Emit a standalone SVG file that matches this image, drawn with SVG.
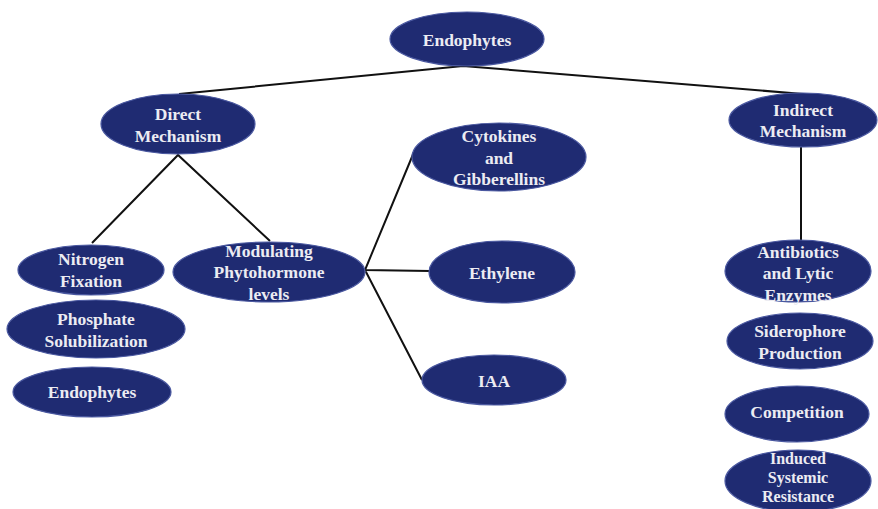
<svg xmlns="http://www.w3.org/2000/svg" width="878" height="509" viewBox="0 0 878 509">
<style>
.n{fill:#1f2b72;stroke:#4a58a0;stroke-width:1.2}
.t{font-family:"Liberation Serif","Times New Roman",serif;font-weight:bold;font-size:17.5px;fill:#ececf2;text-anchor:middle}
.s{font-size:16px}
.c{stroke:#111;stroke-width:2;fill:none}
</style>
<rect width="878" height="509" fill="#fff"/>
<g id="connectors">
<path class="c" d="M179,94 L463,66 L803,94"/>
<path class="c" d="M92,243 L178,155 L270,241"/>
<path class="c" d="M414,152 L365,270 L430,271 M365,270 L422,380"/>
<path class="c" d="M801,147 L801,241"/>
</g>
<g id="endophytes-root"><ellipse class="n" cx="467" cy="39" rx="77" ry="27"/><text class="t" x="467" y="46">Endophytes</text></g>
<g id="direct"><ellipse class="n" cx="178" cy="124" rx="77" ry="30"/><text class="t" x="178" y="119.5">Direct</text><text class="t" x="178" y="141.5">Mechanism</text></g>
<g id="indirect"><ellipse class="n" cx="803" cy="120" rx="74" ry="27"/><text class="t" x="803" y="115.5">Indirect</text><text class="t" x="803" y="136.5">Mechanism</text></g>
<g id="nitrogen"><ellipse class="n" cx="91" cy="270" rx="73" ry="25"/><text class="t" x="91" y="264.5">Nitrogen</text><text class="t" x="91" y="286.5">Fixation</text></g>
<g id="phosphate"><ellipse class="n" cx="96" cy="329" rx="89" ry="29"/><text class="t" x="96" y="324.5">Phosphate</text><text class="t" x="96" y="346.5">Solubilization</text></g>
<g id="endophytes-2"><ellipse class="n" cx="92" cy="392" rx="79" ry="25"/><text class="t" x="92" y="397.5">Endophytes</text></g>
<g id="modulating"><ellipse class="n" cx="269" cy="272" rx="96" ry="30"/><text class="t" x="269" y="256.5">Modulating</text><text class="t" x="269" y="277.5">Phytohormone</text><text class="t" x="269" y="299.5">levels</text></g>
<g id="cytokines"><ellipse class="n" cx="499" cy="157" rx="87" ry="34"/><text class="t" x="499" y="141.5">Cytokines</text><text class="t" x="499" y="163.5">and</text><text class="t" x="499" y="184.5">Gibberellins</text></g>
<g id="ethylene"><ellipse class="n" cx="502" cy="272" rx="73" ry="31"/><text class="t" x="502" y="278.5">Ethylene</text></g>
<g id="iaa"><ellipse class="n" cx="494" cy="380" rx="72" ry="25"/><text class="t" x="494" y="386.5">IAA</text></g>
<g id="antibiotics"><ellipse class="n" cx="798" cy="271" rx="73" ry="31"/><text class="t" x="798" y="257.5">Antibiotics</text><text class="t" x="798" y="278.5">and Lytic</text><text class="t" x="798" y="300.5">Enzymes</text></g>
<g id="siderophore"><ellipse class="n" cx="800" cy="341" rx="73" ry="28"/><text class="t" x="800" y="336.5">Siderophore</text><text class="t" x="800" y="358.5">Production</text></g>
<g id="competition"><ellipse class="n" cx="797" cy="414" rx="72" ry="28"/><text class="t" x="797" y="417.5">Competition</text></g>
<g id="induced"><ellipse class="n" cx="798" cy="481" rx="73" ry="31"/><text class="t s" x="798" y="464">Induced</text><text class="t s" x="798" y="483">Systemic</text><text class="t s" x="798" y="502">Resistance</text></g>
</svg>
